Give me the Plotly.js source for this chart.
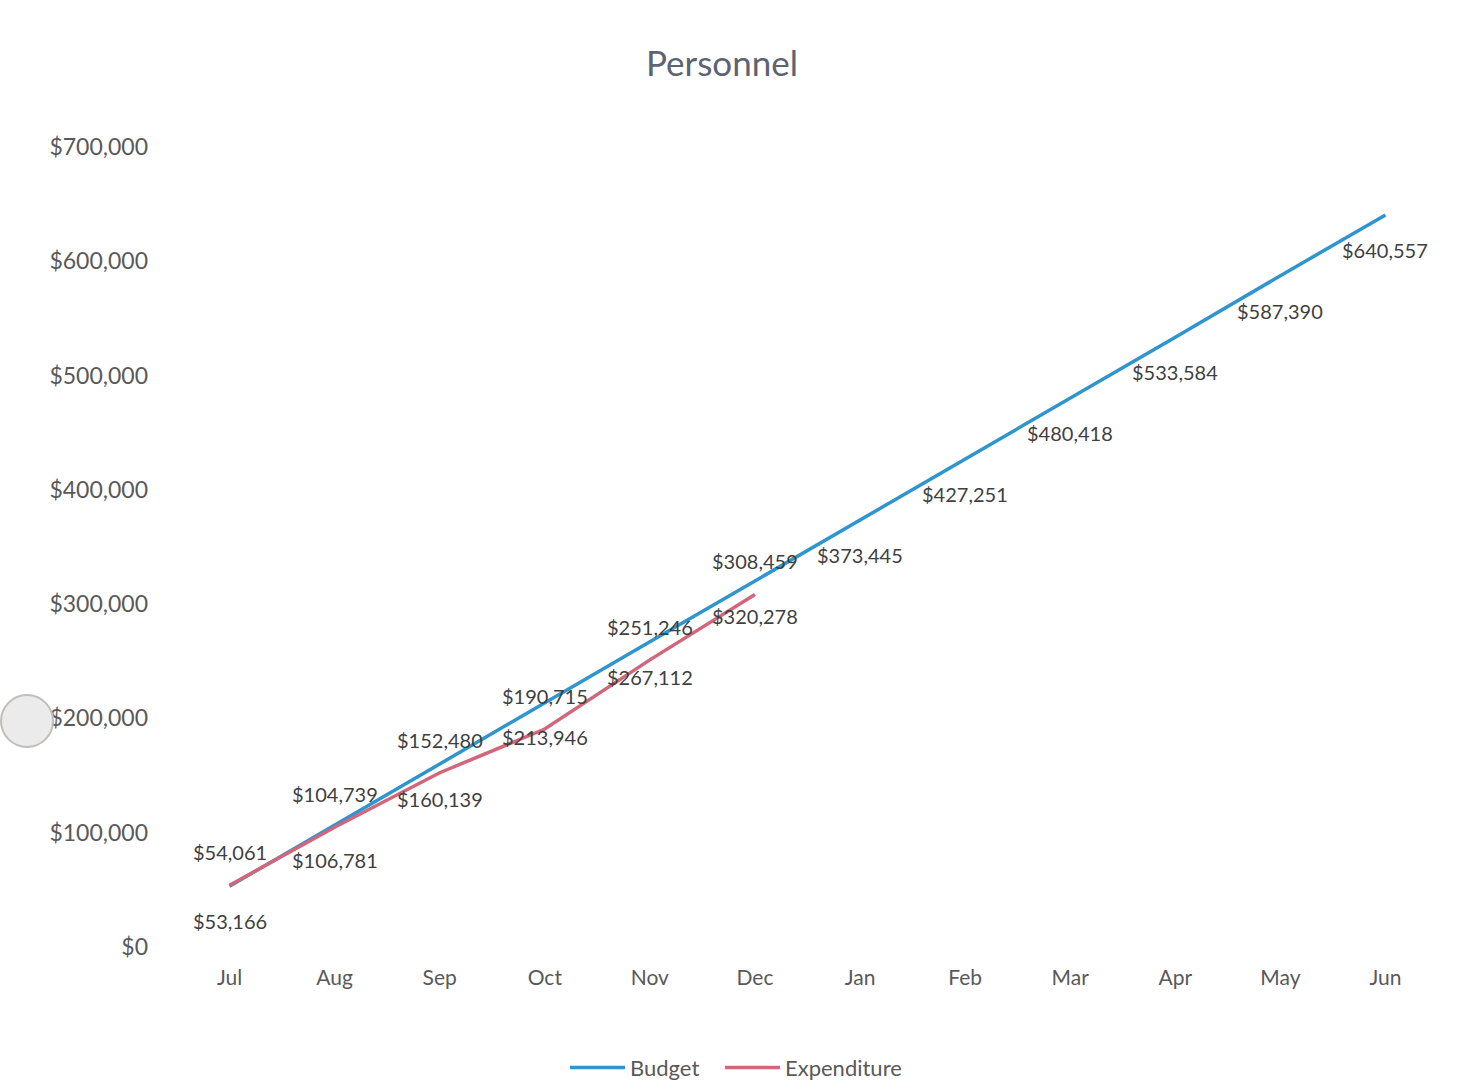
<!DOCTYPE html>
<html>
<head>
<meta charset="utf-8">
<script src="https://cdn.plot.ly/plotly-3.0.1.min.js"></script>
<style>html,body{margin:0;padding:0;background:#fff;}#chart{width:1460px;height:1089px;}</style>
</head>
<body>
<div id="chart"></div>
<script>
const months = ["Jul","Aug","Sep","Oct","Nov","Dec","Jan","Feb","Mar","Apr","May","Jun"];
const budget = [53166,106781,160139,213946,267112,320278,373445,427251,480418,533584,587390,640557];
const expenditureMonths = ["Jul","Aug","Sep","Oct","Nov","Dec"];
const expenditure = [54061,104739,152480,190715,251246,308459];
const yTicks = [0,100000,200000,300000,400000,500000,600000,700000];

const fmt = v => "$" + v.toLocaleString("en-US");
const labelFont = {family:"Lato, 'Open Sans', sans-serif", size:20, color:"#3f3f3f"};

const annotations = [];
months.forEach((m,i)=>annotations.push({x:m,y:budget[i],text:fmt(budget[i]),showarrow:false,yshift:-35,font:labelFont,xref:"x",yref:"y"}));
expenditureMonths.forEach((m,i)=>annotations.push({x:m,y:expenditure[i],text:fmt(expenditure[i]),showarrow:false,yshift:33,font:labelFont,xref:"x",yref:"y"}));

const traces = [
  {x:months,y:budget,name:"Budget",type:"scatter",mode:"lines",line:{color:"#2E95CF",width:3.5},hoverinfo:"skip",legend:"legend"},
  {x:expenditureMonths,y:expenditure,name:"Expenditure",type:"scatter",mode:"lines",line:{color:"#D2667A",width:3.5},hoverinfo:"skip",legend:"legend2"}
];

const legendBase = {orientation:"h",xanchor:"left",y:-0.151,yanchor:"middle",font:{size:22,color:"#595959"},itemwidth:55,tracegroupgap:0,bgcolor:"rgba(0,0,0,0)"};

const layout = {
  width:1460,height:1089,
  margin:{l:177,r:22,t:147,b:142,autoexpand:false},
  paper_bgcolor:"#ffffff",plot_bgcolor:"#ffffff",
  font:{family:"Lato, 'Open Sans', sans-serif",color:"#595959"},
  title:{text:"Personnel",font:{family:"Lato, 'Open Sans', sans-serif",size:35,color:"#5c6373"},x:722/1460,xref:"container",xanchor:"center",y:1-64/1089,yref:"container",yanchor:"middle"},
  xaxis:{type:"category",categoryorder:"array",categoryarray:months,range:[-0.5,11.5],showgrid:false,zeroline:false,showline:false,ticks:"",ticklabelstandoff:16,tickfont:{size:21,color:"#595959"},fixedrange:true,automargin:false},
  yaxis:{range:[0,700000],tickvals:yTicks,ticktext:yTicks.map(fmt),showgrid:false,zeroline:false,showline:false,ticks:"",ticklabelstandoff:28,tickfont:{size:23,color:"#595959"},fixedrange:true,automargin:false},
  showlegend:true,
  legend:Object.assign({},legendBase,{x:(572-7-177)/1261}),
  legend2:Object.assign({},legendBase,{x:(727-7-177)/1261}),
  annotations:annotations,
  shapes:[{type:"circle",xref:"paper",yref:"paper",x0:(1-177)/1261,x1:(53-177)/1261,y0:(947-747)/800,y1:(947-695)/800,fillcolor:"#ebebeb",line:{color:"#c2bdb8",width:2}}]
};

Plotly.newPlot("chart",traces,layout,{displayModeBar:false,staticPlot:true});
</script>
</body>
</html>
